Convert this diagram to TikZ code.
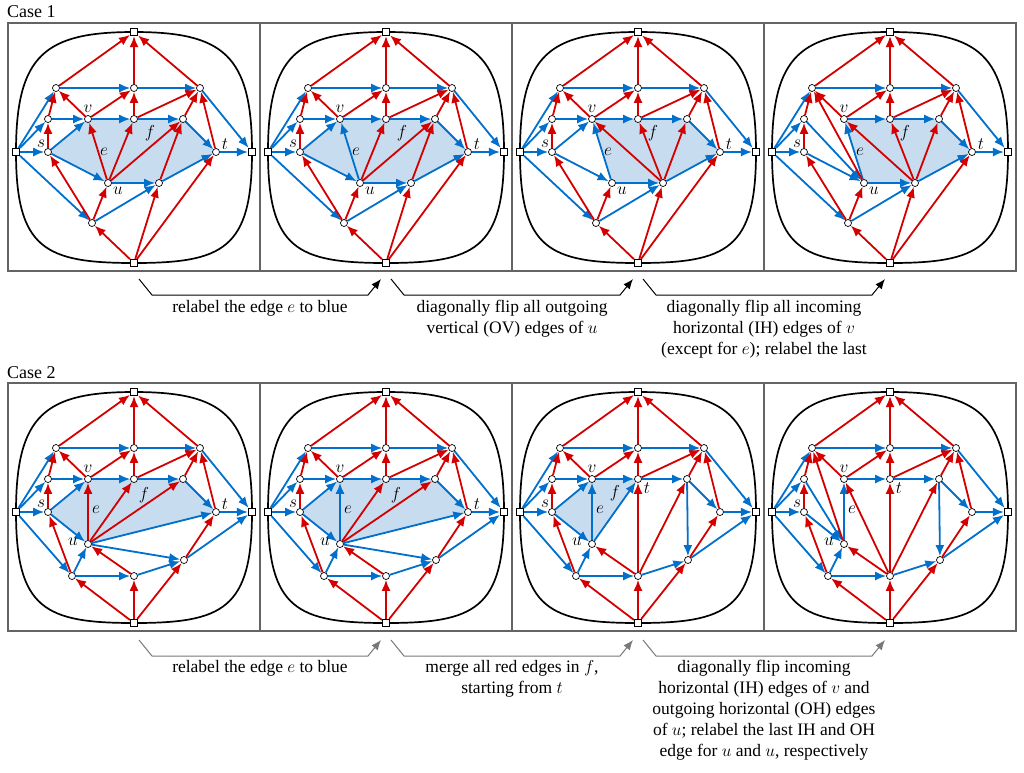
\documentclass[tikz,border=0pt]{standalone}
\usepackage{fontspec}
\setmainfont{Liberation Serif}
\usetikzlibrary{arrows.meta}
\pgfdeclarelayer{bg}\pgfsetlayers{bg,main}
\definecolor{myred}{RGB}{212,0,0}
\definecolor{myblue}{RGB}{0,112,204}
\definecolor{myshade}{RGB}{200,220,240}
\definecolor{framegray}{RGB}{100,100,100}
\definecolor{flowgray}{RGB}{120,120,120}
\tikzset{
 vx/.style={circle,draw,fill=white,inner sep=0pt,minimum size=7pt,line width=0.7pt},
 tm/.style={rectangle,draw,fill=white,inner sep=0pt,minimum size=7.5pt,line width=0.7pt},
 re/.style={myred,line width=1.8pt,-{Latex[length=11pt,width=9pt]}},
 be/.style={myblue,line width=1.8pt,-{Latex[length=11pt,width=9pt]}},
 lab/.style={font=\fontsize{19}{19}\selectfont,inner sep=0pt},
 pframe/.style={framegray,line width=1.6pt},
 outer/.style={black,line width=1.7pt},
 flow/.style={line width=1pt,-{Latex[length=10pt,width=8pt]}},
 caption/.style={align=center,anchor=north,font=\fontsize{17.5}{21}\selectfont,inner sep=0pt},
}
\newcommand\panelbg{%
 \begin{pgfonlayer}{bg}
 \draw[pframe] (8,23) rectangle (260,271);
 \draw[outer] (16,152) .. controls (16,55) and (45,32) .. (134,32)
   .. controls (223,32) and (252,55) .. (252,152)
   .. controls (252,249) and (223,263) .. (134,263)
   .. controls (45,263) and (16,249) .. cycle;
 \end{pgfonlayer}}
\newcommand\basenodes{%
 \node[tm] (N) at (134,32) {}; \node[tm] (S) at (134,263) {};
 \node[tm] (W) at (16,152) {}; \node[tm] (E) at (252,152) {};
 \node[vx] (a1) at (56,88) {}; \node[vx] (a2) at (134,88) {}; \node[vx] (a3) at (200,88) {};
 \node[vx] (b1) at (48,119) {}; \node[vx] (v) at (88,119) {}; \node[vx] (b3) at (134,119) {}; \node[vx] (b4) at (183,119) {};
 \node[vx] (s) at (48,152) {}; \node[vx] (t) at (216,152) {};}
\newcommand\caseonenodes{\basenodes
 \node[vx] (u) at (108,183) {}; \node[vx] (c2) at (159,183) {}; \node[vx] (d) at (92,223) {};}
\newcommand\casetwonodes{\basenodes
 \node[vx] (u) at (88,184) {}; \node[vx] (c1) at (72,216) {}; \node[vx] (c2) at (134,216) {}; \node[vx] (c3) at (184,200) {};}
\newcommand\redges[1]{\foreach \a/\b in {#1} {\draw[re] (\a) -- (\b);}}
\newcommand\bedges[1]{\foreach \a/\b in {#1} {\draw[be] (\a) -- (\b);}}
\newcommand\face[1]{\begin{pgfonlayer}{bg}\fill[myshade] #1;\end{pgfonlayer}}
\newcommand\oneedges{%
 \bedges{W/a1,W/b1,W/s,W/d,a1/a2,a2/a3,v/b3,b3/b4,s/u,b4/t,a3/E,t/E,u/c2,c2/t,d/c2}
 \redges{a1/N,a2/N,a3/N,b1/a1,v/a1,v/a2,b3/a2,b3/a3,b4/a3,t/a3,s/b1,d/s,d/u,S/d,S/c2,S/t,c2/b4}}
\newcommand\twoedges{%
 \bedges{W/a1,W/b1,W/s,W/c1,a1/a2,a2/a3,v/b3,b3/b4,s/u,a3/E,c3/E,c1/u,c1/c2,c2/c3,b4/t,t/E}
 \redges{a1/N,a2/N,a3/N,b1/a1,v/a1,v/a2,b3/a2,b3/a3,b4/a3,t/a3,s/b1,c1/s,c2/u,c3/t,S/c1,S/c2,S/c3}}
\newcommand\onelabels{%
 \node[lab] at ([xshift=-7pt,yshift=8pt]s) {$s$};
 \node[lab] at ([yshift=10pt]v) {$v$};
 \node[lab] at ([xshift=9pt,yshift=8pt]t) {$t$};
 \node[lab] at ([xshift=10pt,yshift=-8pt]u) {$u$};
 \node[lab] at (104,152) {$e$};}
\newcommand\twolabels{%
 \node[lab] at ([xshift=-7pt,yshift=8pt]s) {$s$};
 \node[lab] at ([yshift=10pt]v) {$v$};
 \node[lab] at ([xshift=-15pt,yshift=2pt]u) {$u$};
 \node[lab] at (96,150) {$e$};}
\begin{document}
\begin{tikzpicture}[x=1pt,y=-1pt]
\useasboundingbox (0,0) rectangle (1024,772);
\node[anchor=west,font=\fontsize{18}{18}\selectfont,inner sep=0pt] (case1) at (7,12) {Case 1};
\node[anchor=west,font=\fontsize{18}{18}\selectfont,inner sep=0pt] (case2) at (7,373) {Case 2};
% ---- Case 1
\begin{scope}[name prefix=p1-]
 \panelbg \caseonenodes
 \face{(s.center)--(v.center)--(b3.center)--(b4.center)--(t.center)--(c2.center)--(u.center)--cycle}
 \oneedges \bedges{b1/v,s/v} \redges{u/v,u/b3,u/b4}
 \onelabels \node[lab] at (150,133) {$f$};
\end{scope}
\begin{scope}[shift={(252,0)},name prefix=p2-]
 \panelbg \caseonenodes
 \face{(s.center)--(v.center)--(b3.center)--(b4.center)--(t.center)--(c2.center)--(u.center)--cycle}
 \oneedges \bedges{b1/v,s/v,u/v} \redges{u/b3,u/b4}
 \onelabels \node[lab] at (150,133) {$f$};
\end{scope}
\begin{scope}[shift={(504,0)},name prefix=p3-]
 \panelbg \caseonenodes
 \face{(v.center)--(b3.center)--(b4.center)--(t.center)--(c2.center)--(u.center)--cycle}
 \oneedges \bedges{b1/v,s/v,u/v} \redges{c2/v,c2/b3}
 \onelabels \node[lab] at (149,133) {$f$};
\end{scope}
\begin{scope}[shift={(756,0)},name prefix=p4-]
 \panelbg \caseonenodes
 \face{(v.center)--(b3.center)--(b4.center)--(t.center)--(c2.center)--(u.center)--cycle}
 \oneedges \bedges{u/v,b1/u} \redges{c2/v,c2/b3,u/a1}
 \onelabels \node[lab] at (149,133) {$f$};
\end{scope}
% ---- Case 2
\begin{scope}[shift={(0,360)},name prefix=q1-]
 \panelbg \casetwonodes
 \face{(s.center)--(v.center)--(b3.center)--(b4.center)--(t.center)--(u.center)--cycle}
 \twoedges \bedges{b1/v,s/v,u/t,u/c3} \redges{u/v,u/b3,u/b4}
 \twolabels \node[lab] at ([xshift=9pt,yshift=8pt]t) {$t$}; \node[lab] at (144,135) {$f$};
\end{scope}
\begin{scope}[shift={(252,360)},name prefix=q2-]
 \panelbg \casetwonodes
 \face{(s.center)--(v.center)--(b3.center)--(b4.center)--(t.center)--(u.center)--cycle}
 \twoedges \bedges{b1/v,s/v,u/t,u/c3,u/v} \redges{u/b3,u/b4}
 \twolabels \node[lab] at ([xshift=9pt,yshift=8pt]t) {$t$}; \node[lab] at (144,135) {$f$};
\end{scope}
\begin{scope}[shift={(504,360)},name prefix=q3-]
 \panelbg \casetwonodes
 \face{(s.center)--(v.center)--(b3.center)--(u.center)--cycle}
 \twoedges \bedges{b1/v,s/v,u/v,u/b3,b4/c3} \redges{c2/b3,c2/b4}
 \twolabels \node[lab] at ([xshift=9pt,yshift=-9pt]b3) {$t$}; \node[lab] at (111,133) {$f$};
\end{scope}
\begin{scope}[shift={(756,360)},name prefix=q4-]
 \panelbg \casetwonodes
 \twoedges \bedges{u/v,b1/u,b4/c3} \redges{u/a1,c2/v,c2/b3,c2/b4}
 \twolabels \node[lab] at ([xshift=9pt,yshift=-9pt]b3) {$t$};
\end{scope}
% ---- flow arrows
\foreach \k in {0,1,2} {
 \coordinate (fa\k) at (139+252*\k,279); \coordinate (fb\k) at (381+252*\k,279);
 \draw[flow] (fa\k) -- ++(13,16) -- ++(216,0) -- (fb\k);
 \coordinate (ga\k) at (139+252*\k,640); \coordinate (gb\k) at (381+252*\k,640);
 \draw[flow,flowgray] (ga\k) -- ++(13,16) -- ++(216,0) -- (gb\k);
}
\node[caption] (t1) at (260,300) {relabel the edge $e$ to blue};
\node[caption] (t2) at (512,300) {diagonally flip all outgoing\\vertical (OV) edges of $u$};
\node[caption] (t3) at (764,300) {diagonally flip all incoming\\horizontal (IH) edges of $v$\\(except for $e$); relabel the last};
\node[caption] (t4) at (260,660) {relabel the edge $e$ to blue};
\node[caption] (t5) at (512,660) {merge all red edges in $f$,\\starting from $t$};
\node[caption] (t6) at (764,660) {diagonally flip incoming\\horizontal (IH) edges of $v$ and\\outgoing horizontal (OH) edges\\of $u$; relabel the last IH and OH\\edge for $u$ and $u$, respectively};
\end{tikzpicture}
\end{document}
